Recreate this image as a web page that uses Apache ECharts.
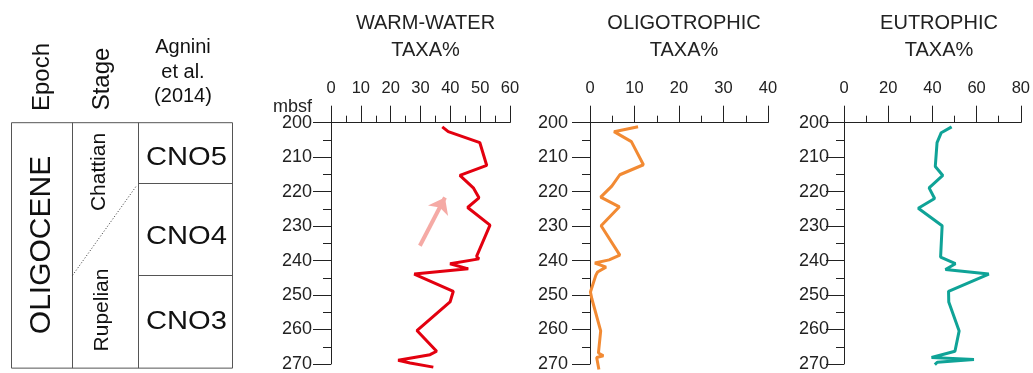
<!DOCTYPE html>
<html>
<head>
<meta charset="utf-8">
<script src="https://cdn.jsdelivr.net/npm/echarts@6/dist/echarts.min.js"></script>
<style>
html,body{margin:0;padding:0;background:#fff;}
#chart{width:1033px;height:373px;}
</style>
</head>
<body>
<div id="chart"></div>
<script>
// ---------- data ----------
const depthTicks = [200, 210, 220, 230, 240, 250, 260, 270];

const warmDepth = [201.2, 202.6, 205.8, 212.4, 215.3, 218.9, 221.8, 224.6, 229.7, 238.8, 239.5, 240.9, 242.4, 243.9, 248.9, 252.0, 260.3, 266.3, 267.3, 268.9, 269.7, 270.9];
const warmValue = [37.3, 39.3, 49.9, 52.2, 43.2, 47.7, 49.6, 45.8, 53.3, 48.8, 49.6, 39.9, 46.0, 27.9, 41.0, 39.9, 28.8, 35.4, 33.2, 22.5, 26.5, 34.3];

const oligoDepth = [201.2, 202.6, 205.5, 212.2, 215.1, 218.4, 221.6, 224.4, 229.9, 238.4, 239.8, 240.7, 241.9, 243.3, 244.3, 249.1, 251.0, 260.4, 266.8, 267.6, 268.1, 271.6];
const oligoValue = [10.8, 5.4, 9.3, 12.0, 6.7, 4.9, 2.4, 6.6, 2.5, 6.7, 4.3, 1.1, 3.6, 1.7, 1.3, 0.1, 0.4, 2.4, 1.9, 3.0, 1.5, 2.0];

const eutroDepth = [201.2, 202.9, 205.8, 212.7, 215.3, 218.9, 222.0, 224.8, 229.9, 239.0, 240.9, 242.6, 243.9, 248.9, 252.0, 260.4, 266.3, 268.1, 268.7, 269.5, 270.2];
const eutroValue = [48.7, 44.0, 42.1, 41.3, 44.7, 38.5, 41.0, 33.6, 44.4, 43.7, 50.4, 45.9, 65.5, 47.3, 47.4, 52.1, 50.2, 39.6, 58.8, 42.2, 41.1];

// trend arrow on warm-water panel: [value, depth] tail -> head
const trendArrow = [[29.8, 235.7], [38.2, 221.7]];

const panelTitles = ['WARM-WATER\nTAXA%', 'OLIGOTROPHIC\nTAXA%', 'EUTROPHIC\nTAXA%'];
const panelMax = [60, 40, 80];
const panelInterval = [10, 10, 20];

// stratigraphic table
const epochName = 'OLIGOCENE';
const stageNames = ['Chattian', 'Rupelian'];
const stageBoundary = [244.3, 218.3]; // depth at left / right end of dotted boundary
const zoneNames = ['CNO5', 'CNO4', 'CNO3'];
const zoneTops = [200, 217.4, 244.3];
const tableBase = 271.2;

// ---------- chart ----------
const FONT = '"Liberation Sans", Arial, sans-serif';
const INK = '#222';
const chart = echarts.init(document.getElementById('chart'), null, {renderer: 'canvas'});

const gridPos = [
  {left: 331, width: 179},
  {left: 590, width: 178},
  {left: 844, width: 180}
];
const labelMargins = [19, 22, 15];

function pairs(v, d) { return v.map((x, i) => [x, d[i]]); }

const option = {
  animation: false,
  backgroundColor: '#fff',
  textStyle: {fontFamily: FONT},
  title: panelTitles.map((t, i) => ({
    text: t,
    left: gridPos[i].left + gridPos[i].width / 2,
    top: 5,
    textAlign: 'center',
    textStyle: {fontFamily: FONT, fontSize: 20, fontWeight: 'normal', color: INK, lineHeight: 27}
  })),
  grid: gridPos.map(g => ({left: g.left, width: g.width, top: 122.7, height: 243.3})),
  xAxis: panelMax.map((m, i) => ({
    type: 'value', gridIndex: i, position: 'top', min: 0, max: m, interval: panelInterval[i],
    axisLine: {show: true, lineStyle: {color: INK, width: 1}},
    axisTick: {show: true, inside: false, length: 17, lineStyle: {color: INK, width: 1}},
    minorTick: {show: true, splitNumber: 2, length: 7, lineStyle: {color: INK, width: 1}},
    splitLine: {show: false},
    axisLabel: {margin: 26, fontSize: 16.5, color: INK, fontFamily: FONT}
  })),
  yAxis: panelMax.map((m, i) => ({
    type: 'value', gridIndex: i, inverse: true, min: 200, max: 270, interval: 10,
    axisLine: {show: true, onZero: false, lineStyle: {color: INK, width: 1}},
    axisTick: {show: true, length: 18, lineStyle: {color: INK, width: 1}},
    minorTick: {show: true, splitNumber: 2, length: 8, lineStyle: {color: INK, width: 1}},
    splitLine: {show: false},
    axisLabel: {margin: labelMargins[i], fontSize: 18, color: INK, fontFamily: FONT,
      formatter: v => depthTicks.indexOf(v) >= 0 ? String(v) : ''}
  })),
  series: [
    {
      type: 'line', xAxisIndex: 0, yAxisIndex: 0, data: pairs(warmValue, warmDepth),
      showSymbol: false, clip: false, lineStyle: {color: '#e3000f', width: 3},
      markLine: {
        silent: true, symbol: ['none', 'arrow'], symbolSize: [17, 15], label: {show: false},
        lineStyle: {color: '#f5aaa5', width: 4, type: 'solid'},
        data: [[{coord: trendArrow[0]}, {coord: trendArrow[1]}]]
      }
    },
    {
      type: 'line', xAxisIndex: 1, yAxisIndex: 1, data: pairs(oligoValue, oligoDepth),
      showSymbol: false, clip: false, lineStyle: {color: '#f28a33', width: 3}
    },
    {
      type: 'line', xAxisIndex: 2, yAxisIndex: 2, data: pairs(eutroValue, eutroDepth),
      showSymbol: false, clip: false, lineStyle: {color: '#0fa397', width: 3}
    }
  ]
};
chart.setOption(option);

// ---------- stratigraphic column (left) ----------
function dy(d) { return chart.convertToPixel({gridIndex: 0}, [0, d])[1]; }
const colX = [11.5, 72.5, 138.5, 232.5];
const lineCol = '#555';
const yTop = dy(zoneTops[0]);
const yBase = dy(tableBase);
const g = [];
g.push({type: 'rect', shape: {x: colX[0], y: yTop, width: colX[3] - colX[0], height: yBase - yTop},
  style: {fill: 'none', stroke: lineCol, lineWidth: 1}});
[colX[1], colX[2]].forEach(x => g.push({type: 'line', shape: {x1: x, y1: yTop, x2: x, y2: yBase},
  style: {stroke: lineCol, lineWidth: 1}}));
zoneTops.slice(1).forEach(d => g.push({type: 'line',
  shape: {x1: colX[2], y1: Math.round(dy(d)) + 0.5, x2: colX[3], y2: Math.round(dy(d)) + 0.5},
  style: {stroke: lineCol, lineWidth: 1}}));
g.push({type: 'line', shape: {x1: colX[1], y1: dy(stageBoundary[0]), x2: colX[2] - 2, y2: dy(stageBoundary[1])},
  style: {stroke: '#333', lineWidth: 1, lineDash: [1, 2]}});
// zone labels
const zoneLabelY = [158, 236.5, 321.5];
zoneNames.forEach((n, i) => g.push({type: 'text', x: (colX[2] + colX[3]) / 2 + 1, y: zoneLabelY[i], scaleX: 1.12,
  style: {text: n, fontFamily: FONT, fontSize: 26, fill: '#111', textAlign: 'center', textVerticalAlign: 'middle'}}));
// epoch label
g.push({type: 'text', x: 42, y: 245, rotation: Math.PI / 2,
  style: {text: epochName, fontFamily: FONT, fontSize: 30, fill: '#111', textAlign: 'center', textVerticalAlign: 'middle'}});
// stage labels
g.push({type: 'text', x: 99, y: 172, rotation: Math.PI / 2,
  style: {text: stageNames[0], fontFamily: FONT, fontSize: 21, fill: '#111', textAlign: 'center', textVerticalAlign: 'middle'}});
g.push({type: 'text', x: 102, y: 310, rotation: Math.PI / 2,
  style: {text: stageNames[1], fontFamily: FONT, fontSize: 21, fill: '#111', textAlign: 'center', textVerticalAlign: 'middle'}});
// column headers
g.push({type: 'text', x: 42, y: 77, rotation: Math.PI / 2,
  style: {text: 'Epoch', fontFamily: FONT, fontSize: 24, fill: '#111', textAlign: 'center', textVerticalAlign: 'middle'}});
g.push({type: 'text', x: 102, y: 79, rotation: Math.PI / 2,
  style: {text: 'Stage', fontFamily: FONT, fontSize: 24, fill: '#111', textAlign: 'center', textVerticalAlign: 'middle'}});
g.push({type: 'text', x: 183, y: 72,
  style: {text: 'Agnini\net al.\n(2014)', fontFamily: FONT, fontSize: 20, lineHeight: 24.5, fill: '#111', textAlign: 'center', textVerticalAlign: 'middle'}});
// depth unit
g.push({type: 'text', x: 312, y: 107,
  style: {text: 'mbsf', fontFamily: FONT, fontSize: 18, fill: INK, textAlign: 'right', textVerticalAlign: 'middle'}});

chart.setOption({graphic: {elements: g}});
</script>
</body>
</html>
